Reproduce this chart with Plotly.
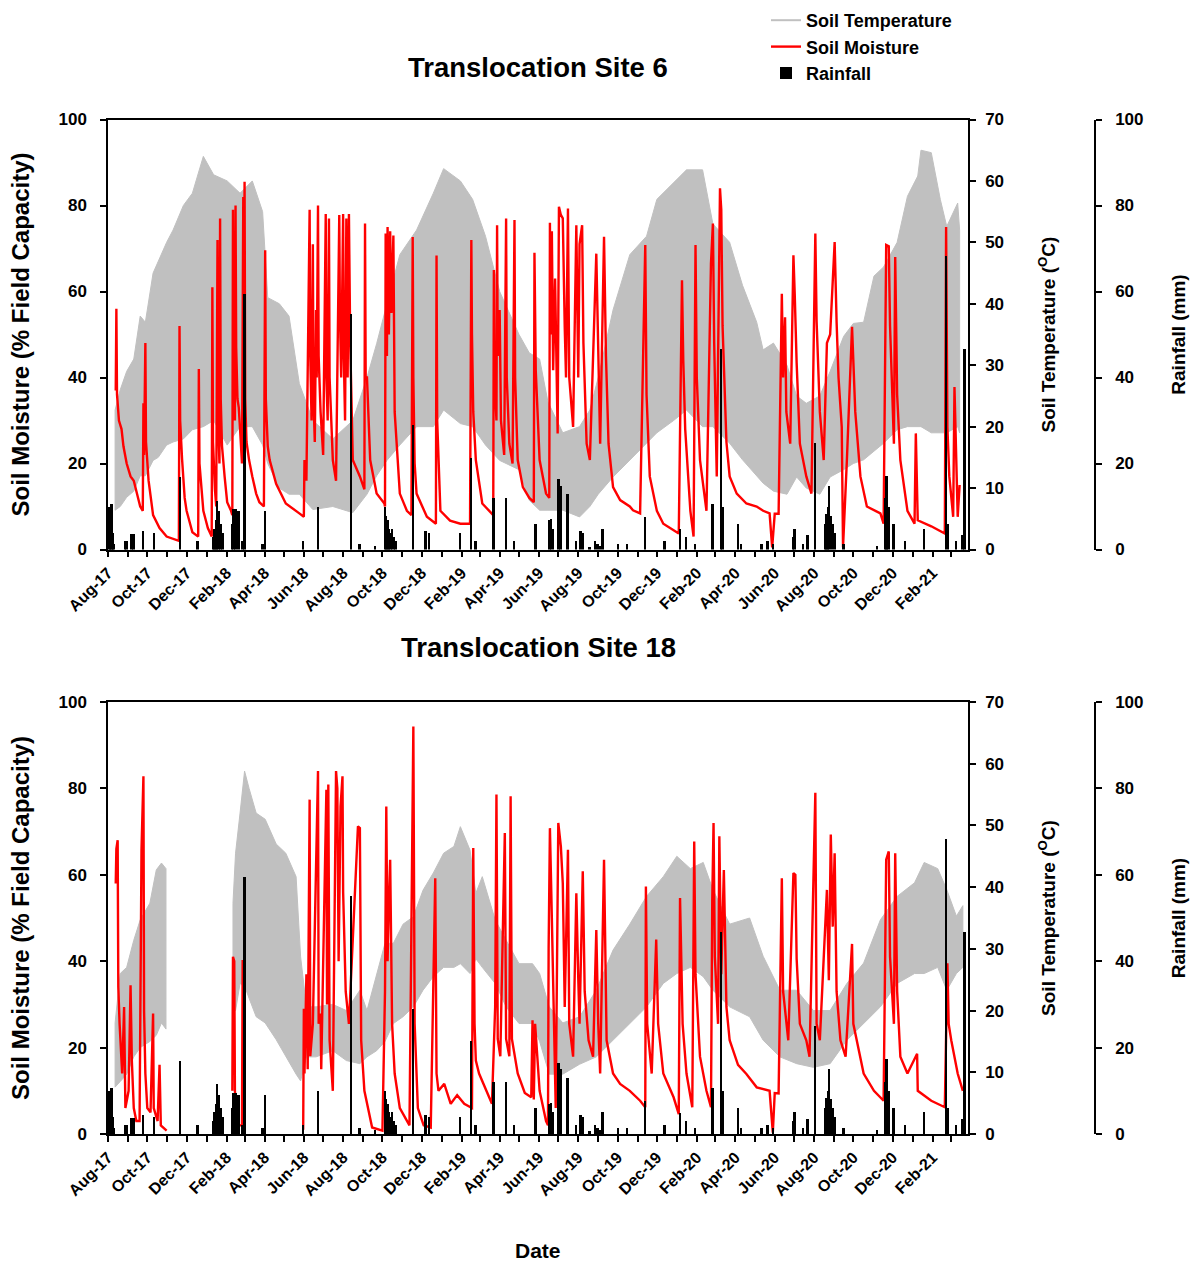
import plotly.graph_objects as go

W, H = 1193, 1261
X_RANGE = ["2017-08-01", "2021-03-28"]

# ---------------- data ----------------
# soil temperature envelope: (date, daily max degC, daily min degC); None = logger gap
SITE6_TEMP = [
    ("2017-08-12", 22.7, 6.4), ("2017-08-20", 26, 7), ("2017-08-30", 29, 8.5),
    ("2017-09-10", 31, 9.5), ("2017-09-20", 38, 12), ("2017-09-28", 37, 12),
    ("2017-10-10", 45, 14.5), ("2017-10-18", 47, 15), ("2017-10-31", 50, 17),
    ("2017-11-10", 52, 17.5), ("2017-11-26", 56, 18), ("2017-12-10", 58, 19.5),
    ("2017-12-27", 64, 20), ("2018-01-12", 61, 21), ("2018-02-02", 60, 17),
    ("2018-02-22", 58, 20), ("2018-03-13", 60, 20), ("2018-03-29", 55, 17),
    ("2018-04-06", 41, 14), ("2018-04-24", 40, 10), ("2018-05-09", 38, 9),
    ("2018-05-25", 27, 9), ("2018-06-15", 21, 6.5), ("2018-07-16", 18, 7),
    ("2018-08-16", 21, 6), ("2018-09-07", 28, 9), ("2018-09-22", 33.5, 12),
    ("2018-10-08", 40, 14.5), ("2018-10-28", 48, 17), ("2018-11-23", 52, 20),
    ("2018-12-19", 58, 20), ("2019-01-04", 62, 22.7), ("2019-01-30", 60, 20.5),
    ("2019-02-18", 57, 20), ("2019-03-10", 51, 17), ("2019-04-01", 42, 14.5),
    ("2019-05-01", 35, 13), ("2019-05-17", 32, 8), ("2019-06-02", 31, 6.4),
    ("2019-06-15", 24, 6.4), ("2019-07-08", 19, 6.4), ("2019-08-03", 20, 5.3),
    ("2019-08-19", 22.7, 7), ("2019-09-01", 28, 9), ("2019-09-24", 39, 11.8),
    ("2019-10-20", 48, 14.6), ("2019-11-15", 51, 17.3), ("2019-12-01", 57, 19),
    ("2019-12-27", 59.7, 21), ("2020-01-16", 61.8, 22.7), ("2020-02-10", 61.8, 20),
    ("2020-02-26", 53, 20), ("2020-03-23", 50, 17.3), ("2020-04-12", 43, 14.6),
    ("2020-05-04", 37, 12), ("2020-05-14", 32.5, 10.8), ("2020-05-30", 33.6, 9.5),
    ("2020-06-20", 30, 9), ("2020-07-05", 25, 11.8), ("2020-07-20", 23.8, 10),
    ("2020-08-10", 25, 9), ("2020-08-26", 29, 11.8), ("2020-09-16", 34.7, 13),
    ("2020-10-01", 36.8, 14), ("2020-10-17", 37, 14.6), ("2020-11-02", 44.5, 16),
    ("2020-11-17", 46, 17.3), ("2020-12-08", 50, 19.5), ("2020-12-24", 57.5, 20),
    ("2021-01-09", 60.8, 20), ("2021-01-14", 65, 20), ("2021-01-30", 64.6, 19),
    ("2021-02-13", 57, 19), ("2021-02-23", 52.6, 19), ("2021-03-12", 56.4, 20),
    ("2021-03-15", 52, 19),
]

SITE18_TEMP = [
    ("2017-08-12", 18, 7.6), ("2017-08-20", 26, 8.5), ("2017-08-30", 27, 9.7),
    ("2017-09-10", 31.4, 12.5), ("2017-09-20", 34.7, 14), ("2017-10-05", 37.4, 15),
    ("2017-10-15", 42.8, 16), ("2017-10-23", 43.9, 18), ("2017-10-30", 43, 17),
    None,
    ("2018-02-11", 37.4, 20), ("2018-02-15", 45.5, 20), ("2018-02-22", 52, 24.4),
    ("2018-03-01", 58.8, 24), ("2018-03-08", 56, 22), ("2018-03-19", 52, 19),
    ("2018-04-02", 51, 18), ("2018-04-19", 47, 15.3), ("2018-05-04", 45.5, 12.5),
    ("2018-05-20", 41.7, 9.7), ("2018-05-27", 28.7, 8.6), ("2018-06-05", 20.6, 12.5),
    ("2018-06-20", 20.6, 12.5), ("2018-07-16", 21, 13.5), ("2018-08-06", 20, 11.9),
    ("2018-08-27", 23.3, 11.4), ("2018-09-07", 20, 12.5), ("2018-09-22", 26, 13.5),
    ("2018-10-05", 30.9, 15), ("2018-10-18", 30.9, 17.9), ("2018-11-02", 34, 19),
    ("2018-11-18", 35.2, 20.6), ("2018-12-03", 39.5, 23.3), ("2018-12-19", 42.3, 25.5),
    ("2019-01-04", 45.5, 27), ("2019-01-20", 46.6, 27), ("2019-01-30", 49.8, 27.6),
    ("2019-02-14", 46, 26), ("2019-02-23", 39, 28.4), ("2019-03-05", 41.7, 27),
    ("2019-03-25", 34.7, 24.4), ("2019-04-11", 31.4, 20.6), ("2019-05-01", 27.6, 17.9),
    ("2019-05-22", 27.6, 17.9), ("2019-06-02", 26, 15), ("2019-06-17", 20.6, 9.7),
    ("2019-07-08", 18, 9.7), ("2019-08-03", 19, 11.3), ("2019-08-29", 23.3, 12.5),
    ("2019-09-24", 29.8, 15.2), ("2019-10-20", 34, 17.9), ("2019-11-15", 38.5, 20.6),
    ("2019-12-11", 41.7, 24.4), ("2020-01-01", 45, 26), ("2020-01-22", 43, 27),
    ("2020-02-11", 44, 25.5), ("2020-02-26", 39.6, 23.3), ("2020-03-23", 34, 20.6),
    ("2020-04-23", 35, 19), ("2020-05-14", 28.8, 15.2), ("2020-06-09", 23.3, 12.5),
    ("2020-07-05", 23.3, 11.4), ("2020-07-31", 20, 10.8), ("2020-08-26", 20, 11.4),
    ("2020-09-21", 24.4, 15.2), ("2020-10-17", 27.7, 17.9), ("2020-11-12", 34.7, 20.6),
    ("2020-12-08", 38.5, 24.4), ("2021-01-04", 40.7, 26), ("2021-01-19", 44, 26),
    ("2021-02-09", 43, 27), ("2021-02-23", 39.6, 23.3), ("2021-03-10", 35.3, 26),
    ("2021-03-20", 37, 27),
]

# soil moisture (% field capacity)
SITE6_MOISTURE = [
    ("2017-08-13", 37), ("2017-08-14", 56), ("2017-08-15", 36), ("2017-08-18", 30),
    ("2017-08-22", 28), ("2017-08-25", 24), ("2017-08-30", 20), ("2017-09-05", 17),
    ("2017-09-10", 16), ("2017-09-15", 13), ("2017-09-20", 10), ("2017-09-24", 9),
    ("2017-09-25", 34), ("2017-09-26", 22), ("2017-09-28", 48), ("2017-09-29", 25),
    ("2017-10-03", 16), ("2017-10-10", 8), ("2017-10-20", 5), ("2017-10-31", 3),
    ("2017-11-10", 2.5), ("2017-11-19", 2), ("2017-11-20", 52), ("2017-11-21", 30),
    ("2017-11-24", 21), ("2017-11-28", 12), ("2017-12-01", 9), ("2017-12-10", 4),
    ("2017-12-19", 3), ("2017-12-20", 42), ("2017-12-21", 20), ("2017-12-27", 9),
    ("2018-01-03", 5), ("2018-01-09", 3), ("2018-01-10", 61), ("2018-01-11", 25),
    ("2018-01-14", 14), ("2018-01-16", 10), ("2018-01-18", 72), ("2018-01-19", 30),
    ("2018-01-21", 20), ("2018-01-22", 77), ("2018-01-23", 35), ("2018-01-25", 24),
    ("2018-01-29", 17), ("2018-02-02", 11), ("2018-02-08", 9), ("2018-02-10", 8),
    ("2018-02-11", 79), ("2018-02-12", 40), ("2018-02-13", 70), ("2018-02-14", 30),
    ("2018-02-15", 80), ("2018-02-16", 47), ("2018-02-18", 35), ("2018-02-20", 33),
    ("2018-02-22", 28), ("2018-02-25", 20), ("2018-02-27", 82), ("2018-02-28", 45),
    ("2018-03-01", 85.5), ("2018-03-02", 35), ("2018-03-04", 25), ("2018-03-08", 20.8),
    ("2018-03-13", 17), ("2018-03-19", 13), ("2018-03-24", 11), ("2018-03-31", 10),
    ("2018-04-02", 69.6), ("2018-04-03", 35), ("2018-04-06", 24), ("2018-04-09", 20.8),
    ("2018-04-19", 15.3), ("2018-05-04", 10.7), ("2018-05-25", 8.4), ("2018-06-01", 7.6),
    ("2018-06-02", 20.8), ("2018-06-05", 16), ("2018-06-10", 79), ("2018-06-11", 45),
    ("2018-06-13", 30), ("2018-06-15", 71), ("2018-06-16", 35), ("2018-06-18", 25),
    ("2018-06-20", 55.7), ("2018-06-21", 40), ("2018-06-23", 80), ("2018-06-24", 45),
    ("2018-06-27", 32), ("2018-07-01", 22), ("2018-07-05", 78), ("2018-07-06", 40),
    ("2018-07-08", 30), ("2018-07-10", 77), ("2018-07-11", 40), ("2018-07-16", 20.8),
    ("2018-07-21", 16), ("2018-07-26", 77.8), ("2018-07-27", 55), ("2018-07-29", 40),
    ("2018-08-01", 78), ("2018-08-02", 45), ("2018-08-04", 30), ("2018-08-06", 77),
    ("2018-08-08", 40), ("2018-08-10", 78), ("2018-08-12", 48), ("2018-08-14", 31),
    ("2018-08-16", 20.8), ("2018-08-27", 17), ("2018-09-03", 14), ("2018-09-04", 75.8),
    ("2018-09-05", 40), ("2018-09-07", 40), ("2018-09-12", 20.8), ("2018-09-22", 13),
    ("2018-10-04", 10.7), ("2018-10-05", 10), ("2018-10-06", 73.5), ("2018-10-08", 45),
    ("2018-10-09", 75), ("2018-10-11", 50), ("2018-10-13", 74), ("2018-10-15", 55),
    ("2018-10-18", 73), ("2018-10-20", 32), ("2018-10-28", 13), ("2018-11-08", 9),
    ("2018-11-15", 8), ("2018-11-17", 72.7), ("2018-11-18", 40), ("2018-11-20", 20),
    ("2018-11-23", 13), ("2018-12-09", 7.6), ("2018-12-23", 6), ("2018-12-24", 68.4),
    ("2018-12-25", 30), ("2018-12-30", 9), ("2019-01-14", 6.7), ("2019-01-30", 6),
    ("2019-02-14", 6), ("2019-02-16", 72), ("2019-02-17", 50), ("2019-02-19", 32),
    ("2019-02-23", 20.8), ("2019-03-05", 10.7), ("2019-03-16", 9), ("2019-03-22", 8),
    ("2019-03-23", 65), ("2019-03-24", 40), ("2019-03-27", 30), ("2019-03-28", 75.4),
    ("2019-03-29", 45), ("2019-04-01", 55.7), ("2019-04-03", 30), ("2019-04-08", 22),
    ("2019-04-11", 77), ("2019-04-12", 40), ("2019-04-16", 24.6), ("2019-04-21", 20),
    ("2019-04-24", 76.6), ("2019-04-25", 40), ("2019-04-29", 20.8), ("2019-05-07", 14.5),
    ("2019-05-17", 12), ("2019-05-24", 11), ("2019-05-25", 69), ("2019-05-26", 45),
    ("2019-05-27", 41.7), ("2019-06-02", 20.8), ("2019-06-07", 17), ("2019-06-12", 13),
    ("2019-06-17", 12), ("2019-06-18", 76), ("2019-06-19", 50), ("2019-06-21", 74),
    ("2019-06-23", 41.7), ("2019-06-26", 63), ("2019-06-30", 27), ("2019-07-02", 79.7),
    ("2019-07-05", 77.8), ("2019-07-08", 77), ("2019-07-11", 51.7), ("2019-07-13", 40),
    ("2019-07-16", 79.3), ("2019-07-18", 40), ("2019-07-24", 28.5), ("2019-07-29", 75.4),
    ("2019-08-01", 40), ("2019-08-03", 71), ("2019-08-07", 75.4), ("2019-08-09", 48),
    ("2019-08-14", 24.6), ("2019-08-19", 20.8), ("2019-08-29", 68.8), ("2019-09-01", 44),
    ("2019-09-04", 24.6), ("2019-09-10", 72.7), ("2019-09-13", 45), ("2019-09-17", 24.6),
    ("2019-09-24", 14.5), ("2019-10-05", 11.5), ("2019-10-20", 10), ("2019-10-25", 9.1),
    ("2019-11-05", 8.4), ("2019-11-13", 70.8), ("2019-11-15", 36), ("2019-11-20", 17),
    ("2019-12-01", 9), ("2019-12-11", 6), ("2019-12-27", 4.5), ("2020-01-04", 3.7),
    ("2020-01-09", 62.6), ("2020-01-11", 44), ("2020-01-14", 28), ("2020-01-22", 9),
    ("2020-01-27", 3), ("2020-01-30", 70.8), ("2020-02-01", 40), ("2020-02-06", 20.8),
    ("2020-02-16", 9), ("2020-02-23", 66.5), ("2020-02-26", 75.8), ("2020-02-28", 48),
    ("2020-03-03", 17), ("2020-03-08", 84), ("2020-03-10", 79), ("2020-03-12", 52),
    ("2020-03-18", 25), ("2020-03-23", 17), ("2020-04-03", 13), ("2020-04-18", 10.7),
    ("2020-05-04", 10), ("2020-05-14", 9), ("2020-05-24", 8.4), ("2020-05-28", 0.5),
    ("2020-06-01", 8.3), ("2020-06-07", 8.3), ("2020-06-12", 59.5), ("2020-06-14", 40),
    ("2020-06-17", 54), ("2020-06-19", 32), ("2020-06-25", 24.6), ("2020-06-30", 68.4),
    ("2020-07-02", 59.5), ("2020-07-05", 43.4), ("2020-07-10", 24.6), ("2020-07-20", 17),
    ("2020-07-28", 13), ("2020-08-03", 73.5), ("2020-08-05", 53), ("2020-08-10", 32),
    ("2020-08-16", 20.8), ("2020-08-21", 48), ("2020-08-26", 50), ("2020-09-02", 71.5),
    ("2020-09-05", 53), ("2020-09-08", 40), ("2020-09-13", 28.5), ("2020-09-15", 0.5),
    ("2020-09-21", 20.8), ("2020-09-29", 51.8), ("2020-10-04", 32), ("2020-10-12", 17),
    ("2020-10-22", 10), ("2020-11-12", 8.4), ("2020-11-17", 6), ("2020-11-21", 70.8),
    ("2020-11-25", 70.5), ("2020-11-27", 52), ("2020-12-03", 24.6), ("2020-12-05", 68),
    ("2020-12-08", 36), ("2020-12-13", 20.8), ("2020-12-24", 9), ("2021-01-04", 6),
    ("2021-01-06", 27), ("2021-01-09", 6.8), ("2021-01-30", 5.4), ("2021-02-20", 3.7),
    ("2021-02-22", 75), ("2021-02-24", 28.5), ("2021-02-27", 17), ("2021-03-05", 7.6),
    ("2021-03-07", 37.8), ("2021-03-10", 17), ("2021-03-12", 7.6), ("2021-03-15", 15),
]

SITE18_MOISTURE = [
    ("2017-08-13", 58), ("2017-08-14", 66), ("2017-08-16", 68), ("2017-08-17", 34),
    ("2017-08-19", 25.5), ("2017-08-20", 21.7), ("2017-08-23", 14), ("2017-08-26", 29.4),
    ("2017-08-28", 6), ("2017-09-02", 10), ("2017-09-05", 34.4), ("2017-09-07", 17),
    ("2017-09-10", 6), ("2017-09-14", 3), ("2017-09-19", 3), ("2017-09-22", 65.8),
    ("2017-09-25", 82.8), ("2017-09-26", 28.6), ("2017-09-28", 14), ("2017-10-01", 6),
    ("2017-10-06", 5), ("2017-10-10", 27.9), ("2017-10-11", 6), ("2017-10-17", 3),
    ("2017-10-20", 16), ("2017-10-22", 2), ("2017-10-31", 0.8),
    ("2017-11-05", None),
    ("2018-02-10", 10), ("2018-02-11", 41), ("2018-02-13", 40), ("2018-02-14", 10),
    ("2018-02-17", 2), ("2018-02-25", 2), ("2018-02-26", 40), ("2018-02-28", 40),
    ("2018-03-01", 1),
    ("2018-03-05", None),
    ("2018-05-31", 1), ("2018-06-01", 29), ("2018-06-02", 14), ("2018-06-05", 37),
    ("2018-06-07", 15), ("2018-06-10", 77.4), ("2018-06-11", 18), ("2018-06-15", 25.5),
    ("2018-06-23", 84), ("2018-06-24", 25.5), ("2018-06-27", 27.9), ("2018-06-28", 15),
    ("2018-07-06", 79.7), ("2018-07-07", 30), ("2018-07-09", 80.9), ("2018-07-11", 21.7),
    ("2018-07-16", 10), ("2018-07-21", 84), ("2018-07-23", 80), ("2018-07-25", 40),
    ("2018-07-28", 75.8), ("2018-07-31", 82.8), ("2018-08-01", 56), ("2018-08-05", 33),
    ("2018-08-10", 25.5), ("2018-08-24", 71.2), ("2018-08-27", 70.8), ("2018-08-29", 21.7),
    ("2018-09-03", 10), ("2018-09-15", 1.5), ("2018-10-01", 0.8), ("2018-10-05", 33),
    ("2018-10-07", 75.8), ("2018-10-09", 40), ("2018-10-11", 53.4), ("2018-10-13", 63.5),
    ("2018-10-16", 25.5), ("2018-10-20", 14), ("2018-10-28", 6), ("2018-11-12", 2),
    ("2018-11-18", 94.3), ("2018-11-20", 25.5), ("2018-11-25", 6), ("2018-12-04", 2),
    ("2018-12-15", 1.5), ("2018-12-22", 59.2), ("2018-12-24", 14), ("2018-12-27", 10),
    ("2019-01-05", 11.6), ("2019-01-15", 7), ("2019-01-25", 9), ("2019-02-05", 7),
    ("2019-02-17", 6), ("2019-02-19", 66.2), ("2019-02-21", 25.5), ("2019-02-23", 17),
    ("2019-02-28", 14), ("2019-03-12", 10), ("2019-03-20", 7), ("2019-03-25", 29.4),
    ("2019-03-27", 78.6), ("2019-03-29", 22), ("2019-04-02", 18), ("2019-04-09", 69.7),
    ("2019-04-11", 22), ("2019-04-16", 18), ("2019-04-18", 78.2), ("2019-04-20", 22),
    ("2019-04-29", 14), ("2019-05-10", 9.5), ("2019-05-20", 8.5), ("2019-05-22", 26.3),
    ("2019-05-24", 8), ("2019-05-26", 25.5), ("2019-06-02", 10), ("2019-06-12", 3),
    ("2019-06-15", 2), ("2019-06-16", 43), ("2019-06-18", 70.8), ("2019-06-21", 50),
    ("2019-06-25", 21.7), ("2019-06-27", 6), ("2019-07-01", 72), ("2019-07-05", 66.5),
    ("2019-07-08", 58), ("2019-07-11", 29.4), ("2019-07-16", 65.8), ("2019-07-18", 25.5),
    ("2019-07-24", 17.9), ("2019-07-29", 55.7), ("2019-08-01", 36), ("2019-08-03", 25.5),
    ("2019-08-08", 60.8), ("2019-08-11", 33), ("2019-08-17", 21.7), ("2019-08-24", 17.9),
    ("2019-08-29", 47.2), ("2019-09-01", 25.5), ("2019-09-04", 14), ("2019-09-10", 63.5),
    ("2019-09-14", 21.7), ("2019-09-24", 14), ("2019-10-05", 11.6), ("2019-10-20", 10),
    ("2019-11-05", 7.7), ("2019-11-13", 6.2), ("2019-11-14", 57.3), ("2019-11-16", 25.5),
    ("2019-11-23", 14), ("2019-11-30", 45), ("2019-12-03", 25.5), ("2019-12-11", 14),
    ("2019-12-27", 8.5), ("2020-01-04", 4.6), ("2020-01-06", 54.6), ("2020-01-10", 25.5),
    ("2020-01-16", 14), ("2020-01-25", 6.2), ("2020-01-28", 67.7), ("2020-01-30", 37),
    ("2020-02-06", 17.9), ("2020-02-16", 10), ("2020-02-23", 6.2), ("2020-02-25", 54),
    ("2020-02-27", 72), ("2020-02-29", 41), ("2020-03-05", 25.5), ("2020-03-07", 68.9),
    ("2020-03-10", 37), ("2020-03-14", 61.1), ("2020-03-18", 29.4), ("2020-03-23", 21.7),
    ("2020-04-05", 16), ("2020-04-18", 13.9), ("2020-05-04", 10.8), ("2020-05-24", 10),
    ("2020-05-29", 0.3), ("2020-06-01", 9.5), ("2020-06-07", 9.4), ("2020-06-12", 59.2),
    ("2020-06-14", 33), ("2020-06-22", 21.7), ("2020-06-30", 60.4), ("2020-07-03", 60),
    ("2020-07-05", 40.6), ("2020-07-10", 25.5), ("2020-07-20", 21.7), ("2020-07-25", 17.9),
    ("2020-08-03", 79), ("2020-08-05", 25.5), ("2020-08-10", 21.7), ("2020-08-21", 56.5),
    ("2020-08-24", 35.6), ("2020-08-27", 69.3), ("2020-08-30", 48), ("2020-09-02", 65),
    ("2020-09-05", 33), ("2020-09-11", 21.7), ("2020-09-19", 17.9), ("2020-09-29", 44),
    ("2020-10-01", 25.5), ("2020-10-12", 17.9), ("2020-10-17", 14), ("2020-11-02", 10),
    ("2020-11-17", 7.7), ("2020-11-21", 63.5), ("2020-11-25", 65.4), ("2020-11-27", 41),
    ("2020-12-03", 25.5), ("2020-12-05", 65), ("2020-12-08", 33), ("2020-12-13", 17.9),
    ("2020-12-24", 14), ("2021-01-08", 18.6), ("2021-01-09", 10), ("2021-01-30", 7.7),
    ("2021-02-20", 6.2), ("2021-02-24", 39.5), ("2021-02-26", 25.5), ("2021-03-02", 21.7),
    ("2021-03-07", 17.9), ("2021-03-12", 14), ("2021-03-20", 10),
]

# daily rainfall (mm), same gauge for both sites
RAINFALL = [
    ("2017-08-04", 10), ("2017-08-05", 8), ("2017-08-07", 10.7), ("2017-08-09", 4),
    ("2017-08-10", 1.5), ("2017-08-28", 2), ("2017-08-30", 2), ("2017-09-07", 3.7),
    ("2017-09-10", 3.7), ("2017-09-25", 4.5), ("2017-10-12", 4), ("2017-11-21", 17),
    ("2017-12-18", 2), ("2018-01-12", 3), ("2018-01-14", 5), ("2018-01-16", 7),
    ("2018-01-18", 11.5), ("2018-01-20", 9), ("2018-01-23", 6), ("2018-01-26", 4),
    ("2018-02-10", 6), ("2018-02-12", 9.5), ("2018-02-15", 9.5), ("2018-02-20", 9),
    ("2018-02-26", 2), ("2018-03-01", 59.5), ("2018-03-29", 1.5), ("2018-04-02", 9),
    ("2018-05-31", 2), ("2018-06-23", 10), ("2018-08-14", 55), ("2018-08-27", 1.5),
    ("2018-09-20", 1), ("2018-10-05", 10), ("2018-10-07", 8), ("2018-10-09", 7),
    ("2018-10-11", 5), ("2018-10-14", 4), ("2018-10-16", 5), ("2018-10-19", 3),
    ("2018-10-22", 2), ("2018-11-18", 29), ("2018-12-07", 4.5), ("2018-12-13", 4),
    ("2019-01-30", 4), ("2019-02-16", 21.5), ("2019-02-23", 2), ("2019-03-23", 12),
    ("2019-04-11", 12), ("2019-04-24", 2), ("2019-05-27", 6), ("2019-06-18", 7),
    ("2019-06-20", 7.2), ("2019-06-23", 5), ("2019-07-02", 16.5), ("2019-07-05", 15),
    ("2019-07-16", 13), ("2019-07-29", 2), ("2019-08-05", 4.5), ("2019-08-09", 4),
    ("2019-08-19", 0.6), ("2019-08-27", 2), ("2019-08-31", 1.5), ("2019-09-04", 1),
    ("2019-09-08", 5), ("2019-10-02", 1.5), ("2019-10-16", 1.5), ("2019-11-13", 7.6),
    ("2019-12-13", 2), ("2020-01-06", 4.9), ("2020-01-16", 3), ("2020-01-30", 1.5),
    ("2020-02-26", 10.7), ("2020-03-10", 46.7), ("2020-03-12", 10), ("2020-04-05", 6),
    ("2020-04-10", 1.5), ("2020-05-12", 1.5), ("2020-05-21", 2), ("2020-05-30", 1.5),
    ("2020-06-30", 3), ("2020-07-02", 5), ("2020-07-15", 1.5), ("2020-07-22", 3.5),
    ("2020-08-03", 25), ("2020-08-19", 6), ("2020-08-21", 8.4), ("2020-08-23", 10),
    ("2020-08-25", 15), ("2020-08-28", 8), ("2020-08-31", 6), ("2020-09-03", 4),
    ("2020-09-16", 1.5), ("2020-11-07", 1), ("2020-11-20", 12), ("2020-11-22", 17.3),
    ("2020-11-25", 10), ("2020-12-03", 6), ("2020-12-21", 2), ("2021-01-19", 5),
    ("2021-02-22", 68.4), ("2021-02-25", 6), ("2021-03-10", 2), ("2021-03-20", 3.5),
    ("2021-03-23", 46.7),
]

TICK_FORMAT = "%b-%y"
COL_TEMP = "#C0C0C0"
COL_MOIST = "#FF0000"
COL_RAIN = "#000000"
FONT = "Liberation Sans, Arial, sans-serif"


def band(rows):
    """closed polygon(s) between daily max and daily min, one per logger segment"""
    segs, seg = [], []
    for r in rows:
        if r is None:
            segs.append(seg)
            seg = []
        else:
            seg.append(r)
    if seg:
        segs.append(seg)
    xs, ys = [], []
    for i, s in enumerate(segs):
        if i:
            xs.append(None)
            ys.append(None)
        xs += [r[0] for r in s] + [r[0] for r in reversed(s)] + [s[0][0]]
        ys += [r[1] for r in s] + [r[2] for r in reversed(s)] + [s[0][1]]
    return xs, ys


def unzip(rows):
    return [r[0] for r in rows], [r[1] for r in rows]


fig = go.Figure()

panels = [
    (SITE6_TEMP, SITE6_MOISTURE, "x", "y", "y2", "y3", True),
    (SITE18_TEMP, SITE18_MOISTURE, "x2", "y4", "y5", "y6", False),
]
rain_x, rain_y = unzip(RAINFALL)
for temp, moist, xa, ya_t, ya_m, ya_r, show in panels:
    tx, ty = band(temp)
    fig.add_trace(go.Scatter(x=tx, y=ty, mode="lines", fill="toself",
                             fillcolor=COL_TEMP, line=dict(color=COL_TEMP, width=1),
                             name="Soil Temperature", showlegend=False,
                             xaxis=xa, yaxis=ya_t, hoverinfo="skip"))
    if show:
        # legend entry drawn as a plain grey line, as in the original key
        fig.add_trace(go.Scatter(x=[None], y=[None], mode="lines",
                                 line=dict(color=COL_TEMP, width=2),
                                 name="Soil Temperature", legendrank=1,
                                 xaxis=xa, yaxis=ya_t))
    mx, my = unzip(moist)
    fig.add_trace(go.Scatter(x=mx, y=my, mode="lines", connectgaps=False,
                             line=dict(color=COL_MOIST, width=2.4),
                             name="Soil Moisture", showlegend=show, legendrank=2,
                             xaxis=xa, yaxis=ya_m))
    fig.add_trace(go.Bar(x=rain_x, y=rain_y, width=3 * 86400000,
                         marker=dict(color=COL_RAIN, line=dict(width=0)),
                         name="Rainfall", showlegend=show, legendrank=3,
                         xaxis=xa, yaxis=ya_r))

X0, X1 = 108 / W, 968 / W
TOP = [1 - 549.5 / H, 1 - 119.5 / H]
BOT = [1 - 1134 / H, 1 - 702 / H]
RAIN_POS = 1095 / W

tickfont = dict(family=FONT, size=17, color="black", weight="bold")
axline = dict(showline=True, linecolor="black", linewidth=1.5, ticks="outside",
              ticklen=6, tickwidth=1.5, tickcolor="black", showgrid=False,
              zeroline=False, automargin=False)


def xaxis(anchor):
    return dict(domain=[X0, X1], anchor=anchor, type="date", range=X_RANGE,
                mirror=True, dtick="M2", tick0="2017-08-01", tickformat=TICK_FORMAT,
                tickangle=-45,
                tickfont=dict(family=FONT, size=16, color="black", weight="bold"),
                minor=dict(dtick="M1", tick0="2017-08-01", ticks="outside", ticklen=6,
                           tickwidth=1.5, tickcolor="black", showgrid=False),
                **axline)


def temp_axis(domain, anchor):
    return dict(domain=domain, anchor=anchor, side="right", range=[0, 70], dtick=10,
                tickfont=tickfont, ticklabelstandoff=6,
                title=dict(text="Soil Temperature (<sup>O</sup>C)", standoff=39,
                           font=dict(family=FONT, size=19, color="black", weight="bold")),
                **axline)


def moist_axis(over, anchor):
    return dict(overlaying=over, anchor=anchor, side="left", range=[0, 100], dtick=20,
                tickfont=tickfont, ticklabelstandoff=10,
                title=dict(text="Soil Moisture (% Field Capacity)", standoff=22,
                           font=dict(family=FONT, size=24, color="black", weight="bold")),
                **axline)


def rain_axis(over):
    return dict(overlaying=over, anchor="free", position=RAIN_POS, side="right",
                range=[0, 100], dtick=20, tickfont=tickfont, ticklabelstandoff=10,
                title=dict(text="Rainfall (mm)", standoff=28,
                           font=dict(family=FONT, size=19, color="black", weight="bold")),
                **axline)


fig.update_layout(
    width=W, height=H,
    margin=dict(l=0, r=0, t=0, b=0),
    paper_bgcolor="white", plot_bgcolor="rgba(0,0,0,0)",
    font=dict(family=FONT, color="black"),
    bargap=0,
    xaxis=xaxis("y"), yaxis=temp_axis(TOP, "x"),
    yaxis2=moist_axis("y", "x"), yaxis3=rain_axis("y"),
    xaxis2=xaxis("y4"), yaxis4=temp_axis(BOT, "x2"),
    yaxis5=moist_axis("y4", "x2"), yaxis6=rain_axis("y4"),
    legend=dict(x=766 / W, y=1 - 2 / H, xanchor="left", yanchor="top",
                bgcolor="rgba(0,0,0,0)",
                font=dict(family=FONT, size=18, color="black", weight="bold"),
                tracegroupgap=0),
    annotations=[
        dict(text="Translocation Site 6", x=(X0 + X1) / 2, y=1 - 67 / H,
             xref="paper", yref="paper", showarrow=False, xanchor="center", yanchor="middle",
             font=dict(family=FONT, size=27.5, color="black", weight="bold")),
        dict(text="Translocation Site 18", x=(X0 + X1) / 2, y=1 - 648 / H,
             xref="paper", yref="paper", showarrow=False, xanchor="center", yanchor="middle",
             font=dict(family=FONT, size=27.5, color="black", weight="bold")),
        dict(text="Date", x=(X0 + X1) / 2, y=1 - 1250 / H,
             xref="paper", yref="paper", showarrow=False, xanchor="center", yanchor="middle",
             font=dict(family=FONT, size=21, color="black", weight="bold")),
    ],
)

# the page's default 8px body margin would shift the figure; remove it
fig.write_html("out.html", config={"displayModeBar": False},
               post_script="document.body.style.margin='0';")
